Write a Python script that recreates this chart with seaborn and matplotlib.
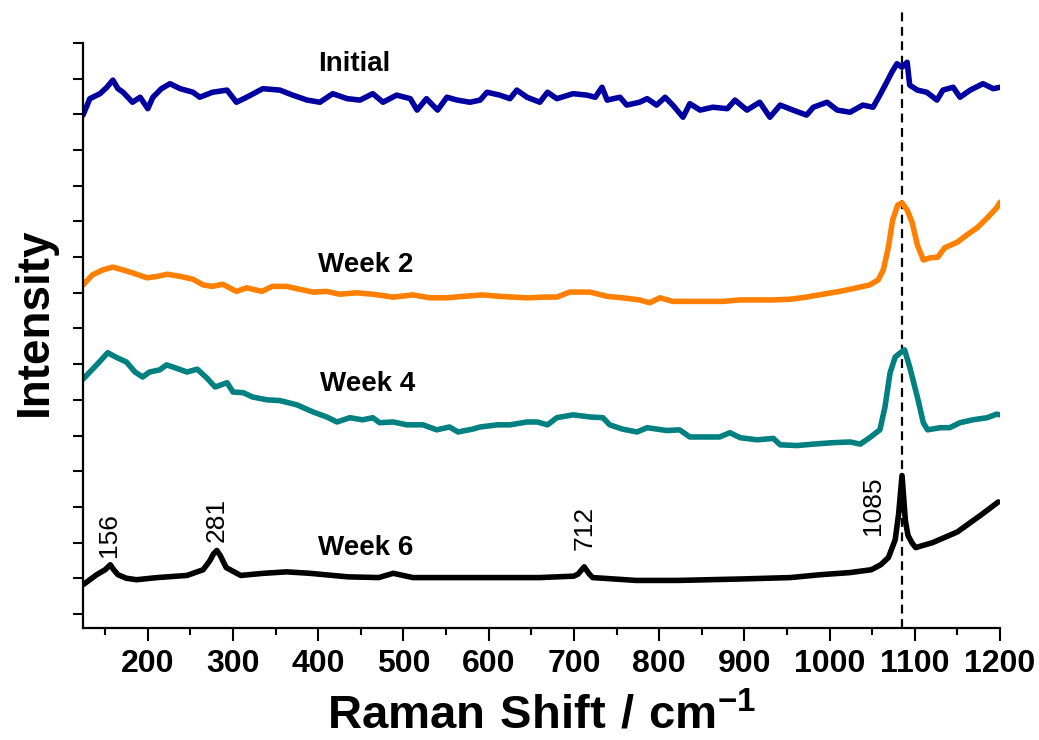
import numpy as np
import pandas as pd
import seaborn as sns
import matplotlib
matplotlib.use("Agg")
import matplotlib.pyplot as plt
from matplotlib import font_manager
from matplotlib.ticker import MultipleLocator

# Raman spectra (offset stacked), wavenumber in cm^-1
initial_x = [124, 132, 144, 152, 159, 165, 171, 182, 191, 200,
             206, 216, 226, 238, 253, 261, 276, 293, 304, 316,
             335, 355, 370, 387, 402, 417, 434, 449, 464, 476,
             492, 508, 516, 527, 540, 551, 563, 578, 590, 598,
             613, 625, 633, 645, 660, 669, 680, 699, 715, 725,
             733, 739, 754, 762, 777, 786, 797, 807, 816, 828,
             836, 848, 863, 880, 889, 903, 918, 930, 942, 957,
             973, 981, 997, 1009, 1024, 1039, 1051, 1059, 1067, 1073,
             1079, 1085, 1091, 1094, 1103, 1114, 1126, 1133, 1145, 1153,
             1165, 1180, 1192, 1200]
initial_y = [6.99, 7.22, 7.29, 7.38, 7.48, 7.36, 7.31, 7.17, 7.24, 7.08,
             7.24, 7.36, 7.43, 7.36, 7.31, 7.24, 7.31, 7.34, 7.17, 7.24,
             7.36, 7.34, 7.27, 7.20, 7.17, 7.29, 7.22, 7.20, 7.29, 7.17,
             7.27, 7.22, 7.06, 7.22, 7.06, 7.24, 7.20, 7.17, 7.20, 7.31,
             7.27, 7.22, 7.34, 7.24, 7.17, 7.31, 7.22, 7.29, 7.27, 7.24,
             7.38, 7.20, 7.24, 7.13, 7.17, 7.22, 7.13, 7.24, 7.13, 6.96,
             7.15, 7.06, 7.10, 7.08, 7.20, 7.06, 7.17, 6.96, 7.13, 7.06,
             6.99, 7.10, 7.17, 7.06, 7.03, 7.13, 7.10, 7.27, 7.45, 7.59,
             7.71, 7.66, 7.73, 7.41, 7.34, 7.31, 7.20, 7.34, 7.38, 7.24,
             7.34, 7.43, 7.36, 7.38]

week2_x = [124, 135, 147, 159, 171, 182, 199, 211, 223, 238,
           253, 265, 276, 288, 304, 316, 334, 346, 363, 378,
           394, 410, 425, 445, 464, 488, 511, 531, 551, 570,
           593, 613, 628, 645, 668, 680, 695, 719, 739, 757,
           777, 789, 801, 816, 836, 856, 875, 895, 915, 934,
           954, 973, 992, 1012, 1032, 1047, 1057, 1063, 1069, 1074,
           1080, 1085, 1091, 1097, 1103, 1110, 1118, 1127, 1135, 1150,
           1161, 1173, 1185, 1196, 1200]
week2_y = [4.61, 4.75, 4.82, 4.86, 4.82, 4.78, 4.71, 4.73, 4.76, 4.73,
           4.69, 4.61, 4.59, 4.62, 4.52, 4.57, 4.52, 4.59, 4.59, 4.55,
           4.51, 4.52, 4.48, 4.50, 4.48, 4.44, 4.47, 4.43, 4.43, 4.45,
           4.47, 4.45, 4.44, 4.43, 4.44, 4.44, 4.51, 4.51, 4.45, 4.43,
           4.40, 4.36, 4.43, 4.38, 4.38, 4.38, 4.38, 4.40, 4.40, 4.40,
           4.41, 4.44, 4.48, 4.52, 4.57, 4.61, 4.68, 4.82, 5.14, 5.52,
           5.73, 5.76, 5.66, 5.48, 5.17, 4.96, 4.99, 5.00, 5.13, 5.21,
           5.31, 5.41, 5.55, 5.69, 5.77]

week4_x = [124, 140, 153, 164, 175, 185, 194, 202, 214, 222,
           232, 246, 258, 269, 279, 293, 300, 312, 323, 340,
           355, 375, 394, 410, 422, 437, 452, 464, 472, 488,
           504, 523, 539, 554, 564, 581, 590, 610, 625, 645,
           657, 669, 680, 699, 719, 734, 742, 757, 774, 786,
           809, 824, 836, 851, 871, 883, 895, 915, 934, 942,
           962, 981, 1004, 1024, 1036, 1047, 1059, 1065, 1071, 1077,
           1083, 1088, 1094, 1103, 1110, 1115, 1130, 1141, 1153, 1168,
           1185, 1196, 1200]
week4_y = [3.29, 3.49, 3.66, 3.59, 3.53, 3.39, 3.32, 3.39, 3.42, 3.49,
           3.45, 3.39, 3.43, 3.31, 3.18, 3.24, 3.11, 3.10, 3.04, 3.00,
           2.99, 2.93, 2.83, 2.76, 2.69, 2.75, 2.72, 2.75, 2.68, 2.69,
           2.65, 2.65, 2.58, 2.62, 2.55, 2.59, 2.62, 2.65, 2.65, 2.69,
           2.69, 2.65, 2.75, 2.79, 2.76, 2.75, 2.65, 2.59, 2.55, 2.61,
           2.57, 2.58, 2.48, 2.48, 2.48, 2.54, 2.47, 2.44, 2.46, 2.37,
           2.36, 2.38, 2.40, 2.41, 2.38, 2.47, 2.58, 2.90, 3.38, 3.60,
           3.66, 3.70, 3.46, 3.04, 2.68, 2.58, 2.61, 2.61, 2.68, 2.72,
           2.75, 2.80, 2.79]

week6_x = [124, 140, 150, 156, 160, 165, 175, 187, 211, 246,
           265, 273, 277, 281, 285, 292, 309, 336, 363, 390,
           435, 471, 488, 511, 570, 660, 700, 705, 712, 718,
           722, 773, 822, 895, 954, 989, 1024, 1049, 1060, 1069,
           1077, 1081, 1085, 1089, 1092, 1097, 1101, 1121, 1150, 1178,
           1198]
week6_y = [0.41, 0.55, 0.62, 0.69, 0.62, 0.55, 0.50, 0.48, 0.51, 0.54,
           0.62, 0.75, 0.84, 0.89, 0.82, 0.65, 0.54, 0.57, 0.59, 0.57,
           0.52, 0.51, 0.57, 0.51, 0.51, 0.51, 0.53, 0.56, 0.66, 0.56,
           0.51, 0.47, 0.47, 0.49, 0.51, 0.55, 0.58, 0.62, 0.69, 0.79,
           1.04, 1.40, 1.94, 1.30, 1.10, 0.99, 0.93, 1.00, 1.15, 1.39,
           1.57]

series_names = ["Initial", "Week 2", "Week 4", "Week 6"]
series_colors = ["#0000A0", "#FF8000", "#008080", "#000000"]
label_pos_x = [442, 456, 458, 456]
label_pos_y = [7.71, 4.89, 3.22, 0.93]

peak_labels = ["156", "281", "712", "1085"]
peak_label_x = [155, 281, 712, 1051]
peak_label_y = [0.80, 1.01, 0.90, 1.11]
marker_line_x = 1085

# ---- fonts ----
available = {f.name for f in font_manager.fontManager.ttflist}
base_font = "Liberation Sans" if "Liberation Sans" in available else "DejaVu Sans"
narrow_font = "Liberation Sans Narrow" if "Liberation Sans Narrow" in available else base_font

sns.set_style("ticks")
plt.rcParams["font.family"] = [base_font, "DejaVu Sans"]
plt.rcParams["mathtext.fontset"] = "custom"
plt.rcParams["mathtext.rm"] = narrow_font + ":bold"
plt.rcParams["mathtext.bf"] = narrow_font + ":bold"
for key in ["text.color", "axes.labelcolor", "xtick.color", "ytick.color",
            "axes.edgecolor"]:
    plt.rcParams[key] = "black"

frames = []
for name, xs, ys in zip(series_names,
                        [initial_x, week2_x, week4_x, week6_x],
                        [initial_y, week2_y, week4_y, week6_y]):
    frames.append(pd.DataFrame({"shift": xs, "intensity": ys, "sample": name}))
df = pd.concat(frames, ignore_index=True)

fig = plt.figure(figsize=(10.39, 7.40), dpi=100)
ax = fig.add_axes([0.0799, 0.1514, 0.8826, 0.7905])

sns.lineplot(data=df, x="shift", y="intensity", hue="sample",
             palette=dict(zip(series_names, series_colors)),
             sort=False, estimator=None, linewidth=4.0, legend=False, ax=ax)
for line in ax.get_lines():
    line.set_solid_joinstyle("round")
    line.set_solid_capstyle("round")

ax.set_xlim(124, 1200)
ax.set_ylim(-0.196, 8.0)

# dashed reference line through the main carbonate band
ax.plot([marker_line_x, marker_line_x], [-0.196, 8.45], color="black",
        linestyle=(0, (4, 2.5)), linewidth=1.6, clip_on=False, zorder=1)

for name, lx, ly in zip(series_names, label_pos_x, label_pos_y):
    ax.text(lx, ly, name, ha="center", va="center", fontsize=20,
            fontweight="bold", color="black", family=[base_font])

for txt, px, py in zip(peak_labels, peak_label_x, peak_label_y):
    ax.text(px, py, txt, ha="center", va="bottom", rotation=90,
            fontsize=19, color="black", family=[base_font])

sns.despine(ax=ax)
for side in ["left", "bottom"]:
    ax.spines[side].set_linewidth(1.6)
    ax.spines[side].set_color("black")

ax.xaxis.set_major_locator(MultipleLocator(100))
ax.xaxis.set_minor_locator(MultipleLocator(50))
ax.set_xticks(np.arange(200, 1201, 100))
ax.yaxis.set_major_locator(MultipleLocator(0.5))
ax.set_yticklabels([])
ax.tick_params(axis="x", which="major", length=9, width=1.5, direction="out",
               pad=6, colors="black")
ax.tick_params(axis="x", which="minor", length=5, width=1.5, direction="out",
               colors="black")
ax.tick_params(axis="y", which="major", length=7, width=1.5, direction="out",
               colors="black")
for lab in ax.get_xticklabels():
    lab.set_fontfamily(narrow_font)
    lab.set_fontweight("bold")
    lab.set_fontsize(23)

ax.set_xlabel(r"$\mathbf{Raman\ Shift\ /\ cm^{-1}}$", fontsize=34, labelpad=11,
              color="black")
ax.set_ylabel("")
fig.text(35 / 1039, 1 - 322 / 740, "Intensity", rotation=90, ha="center",
         va="center", fontsize=33, fontweight="bold", color="black")

fig.savefig("out.png", dpi=100)
